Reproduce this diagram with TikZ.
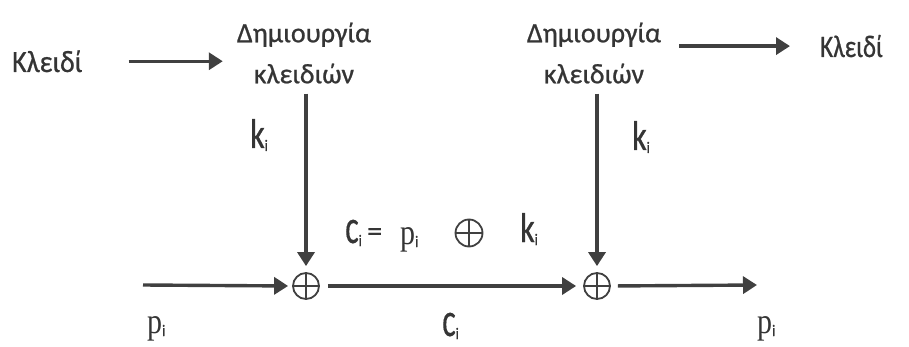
\documentclass[tikz,border=0pt]{standalone}
\usepackage{fontspec}
\usepackage{graphicx}
\usetikzlibrary{arrows.meta}
\newfontfamily\gfont[FakeBold=0.8]{Carlito}
\newfontfamily\cfont[FakeBold=0.4]{Carlito}
\newfontfamily\sfont{Liberation Serif}
\definecolor{ink}{HTML}{353535}
\definecolor{wire}{HTML}{404040}
% tall letters with a thin subscript i
\newcommand{\tall}[2][1.3]{\scalebox{1}[#1]{#2}}
\newcommand{\sub}[1]{\raisebox{-3pt}{\fontsize{13}{13}\selectfont\tall[1.25]{#1}}}
\begin{document}
\begin{tikzpicture}[x=1pt,y=-1pt,
  lbl/.style={font=\gfont\fontsize{28}{30}\selectfont, text=ink, inner sep=0pt},
  sym/.style={text=ink, inner sep=0pt, anchor=base west},
  gen/.style={font=\gfont\fontsize{28}{41}\selectfont, text=ink, align=center, inner sep=0pt},
  xorop/.style={circle, draw=wire, line width=1.8pt, minimum size=26pt, inner sep=0pt},
  wirearrow/.style={draw=wire, line width=3.4pt, -{Triangle[length=14pt,width=17pt]}}
]
\useasboundingbox (0,0) rectangle (909,347);

% key input and the two key generators
\node[lbl, anchor=base west] (key1) at (12,72) {\tall[1.1]{Κλειδί}};
\node[gen] (gen1) at (304,53) {Δημιουργία\\κλειδιών};
\node[gen] (gen2) at (594,53) {Δημιουργία\\κλειδιών};
\node[lbl, anchor=base west, font=\gfont\fontsize{25}{30}\selectfont] (key2) at (820,57) {\tall[1.25]{Κλειδί}};

% the two XOR gates
\node[xorop] (x1) at (306,286) {};
\node[xorop] (x2) at (597,286) {};
\foreach \g in {x1,x2}{
  \draw[wire, line width=1.8pt] (\g.north) -- (\g.south) (\g.west) -- (\g.east);
}

% plaintext in and out
\coordinate (pin) at (143,285);
\coordinate (pout) at (757,285);

% connectors
\draw[wirearrow, shorten <=46pt, shorten >=14pt] (key1.east) -- (key1.east -| gen1.west);
\draw[wirearrow, shorten <=18pt, shorten >=30pt] (gen2.east |- key2.west) -- (key2.west);
\draw[wirearrow, shorten <=10pt, shorten >=6pt] (gen1.south -| x1) -- (x1.north);
\draw[wirearrow, shorten <=10pt, shorten >=6pt] (gen2.south -| x2) -- (x2.north);
\draw[wirearrow, shorten >=4pt] (pin) -- (x1.west);
\draw[wirearrow, shorten <=8pt, shorten >=7pt] (x1.east) -- (x2.west);
\draw[wirearrow, shorten <=7pt] (x2.east) -- (pout);

% labels
\node[sym, font=\gfont\fontsize{32}{34}\selectfont] (k1) at (250,148) {\tall{k}\sub{i}};
\node[sym, font=\gfont\fontsize{32}{34}\selectfont] (k2) at (632,150) {\tall{k}\sub{i}};
\node[sym, font=\sfont\fontsize{30}{32}\selectfont] (p1) at (147,333) {\tall[1.2]{p}\sub{\gfont i}};
\node[sym, font=\sfont\fontsize{30}{32}\selectfont] (p2) at (757,333) {\tall[1.2]{p}\sub{\gfont i}};
\node[sym, font=\cfont\fontsize{32}{34}\selectfont] (c1) at (442,336) {\tall[1.5]{c}\sub{i}};

% the relation between plaintext, key and ciphertext
\node[sym, font=\cfont\fontsize{32}{34}\selectfont] (eqc) at (345,243) {\tall[1.5]{c}\sub{i}};
\node[sym, font=\gfont\fontsize{30}{32}\selectfont] (eqs) at (367,241) {=};
\node[sym, font=\sfont\fontsize{30}{32}\selectfont] (eqp) at (400,244) {\tall[1.2]{p}\sub{\gfont i}};
\node[xorop, minimum size=27pt] (eqx) at (469,233) {};
\draw[wire, line width=1.8pt] (eqx.north) -- (eqx.south) (eqx.west) -- (eqx.east);
\node[sym, font=\gfont\fontsize{32}{34}\selectfont] (eqk) at (520,242) {\tall{k}\sub{i}};
\end{tikzpicture}
\end{document}
